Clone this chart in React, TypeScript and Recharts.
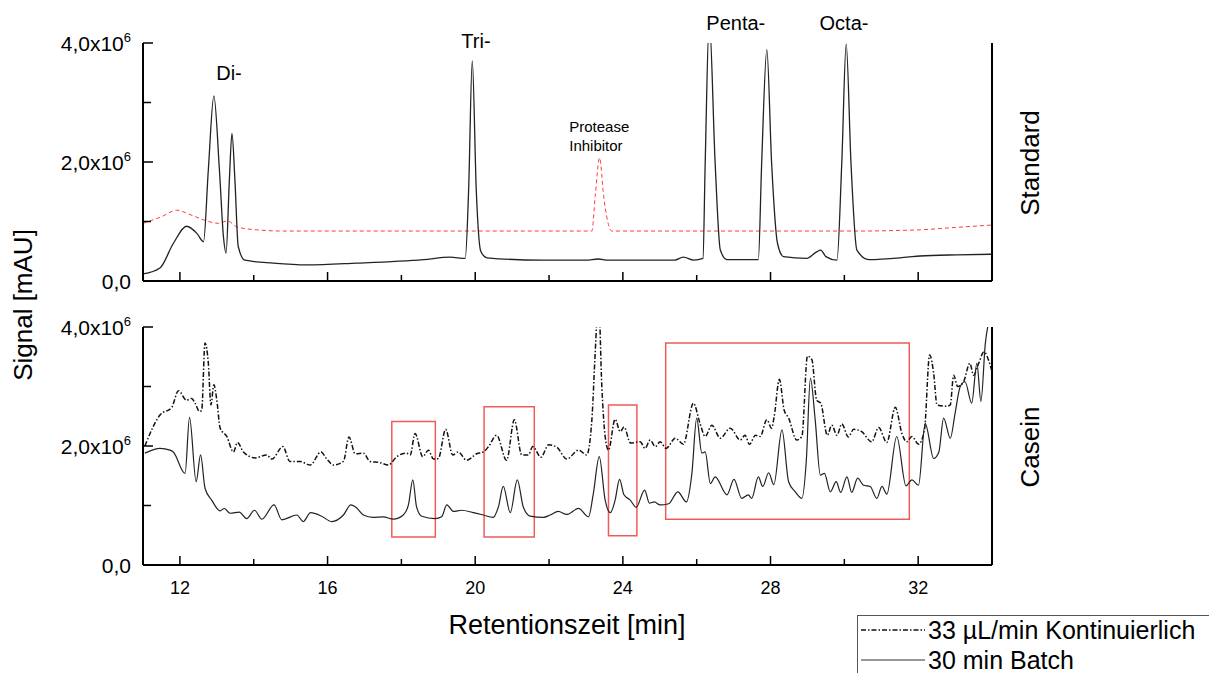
import React from "react";
import {
  LineChart,
  Line,
  XAxis,
  YAxis,
  ReferenceArea,
  ReferenceDot,
} from "recharts";

// values in units of 10^6, time in min
const standardBatch: [number, number][] = [
  [11.0, 0.12], [11.46, 0.22], [11.82, 0.63], [12.18, 0.92], [12.46, 0.8], [12.64, 0.66],
  [12.77, 1.87], [12.92, 3.11], [13.07, 1.87], [13.18, 0.74], [13.25, 0.47], [13.34, 1.7],
  [13.41, 2.48], [13.49, 1.7], [13.58, 0.58], [13.76, 0.35], [14.53, 0.3], [15.44, 0.27],
  [16.79, 0.3], [18.6, 0.36], [19.32, 0.4], [19.73, 0.38], [19.82, 1.5], [19.92, 3.7],
  [20.03, 1.5], [20.15, 0.5], [20.32, 0.39], [21.8, 0.35], [23.0, 0.35], [23.33, 0.37],
  [23.6, 0.35], [25.4, 0.35], [25.64, 0.4], [25.92, 0.35], [26.17, 0.38], [26.23, 1.98],
  [26.34, 4.4], [26.5, 1.98], [26.64, 0.52], [26.82, 0.36], [27.67, 0.36], [27.76, 1.98],
  [27.9, 3.89], [28.03, 1.98], [28.19, 0.63], [28.35, 0.41], [28.98, 0.38], [29.25, 0.49],
  [29.36, 0.52], [29.5, 0.41], [29.8, 0.35], [29.93, 1.98], [30.05, 3.98], [30.18, 1.98],
  [30.34, 0.52], [30.66, 0.36], [31.69, 0.4], [32.05, 0.42], [33.05, 0.44], [34.0, 0.45],
];

const standardInhibitor: [number, number][] = [
  [11.0, 0.97], [11.5, 1.08], [11.91, 1.19], [12.3, 1.11], [12.63, 1.03], [13.04, 0.97],
  [13.29, 1.01], [13.54, 0.91], [14.08, 0.86], [14.8, 0.84], [23.16, 0.84], [23.25, 1.42],
  [23.37, 2.07], [23.48, 1.42], [23.7, 0.84], [30.5, 0.84], [31.5, 0.85], [32.05, 0.86],
  [33.0, 0.9], [34.0, 0.94],
];

const caseinKont: [number, number][] = [
  [11.05, 2.0], [11.46, 2.52], [11.78, 2.65], [11.96, 2.93], [12.18, 2.77], [12.32, 2.8],
  [12.41, 2.72], [12.53, 2.58], [12.59, 2.6], [12.68, 3.73], [12.77, 3.39], [12.84, 2.69],
  [12.92, 3.03], [13.0, 2.77], [13.09, 2.3], [13.27, 2.16], [13.45, 1.9], [13.56, 2.06],
  [13.72, 1.9], [14.04, 1.8], [14.35, 1.85], [14.49, 1.78], [14.79, 1.99], [14.98, 1.74],
  [15.25, 1.74], [15.53, 1.68], [15.82, 1.9], [15.97, 1.79], [16.16, 1.68], [16.43, 1.74],
  [16.58, 2.15], [16.75, 1.87], [16.97, 1.88], [17.15, 1.74], [17.42, 1.72], [17.65, 1.68],
  [17.87, 1.82], [18.14, 1.88], [18.24, 1.85], [18.37, 2.21], [18.58, 1.82], [18.73, 1.93],
  [18.87, 1.78], [19.0, 1.79], [19.2, 2.28], [19.39, 1.85], [19.54, 1.9], [19.77, 1.76],
  [20.04, 1.87], [20.22, 1.9], [20.36, 1.99], [20.58, 2.18], [20.85, 1.76], [21.06, 2.44],
  [21.26, 1.85], [21.44, 1.85], [21.56, 1.99], [21.78, 1.81], [21.99, 2.02], [22.21, 1.98],
  [22.48, 1.78], [22.8, 1.93], [23.02, 1.85], [23.16, 2.44], [23.25, 3.56], [23.34, 4.5],
  [23.43, 3.0], [23.52, 2.16], [23.61, 1.93], [23.79, 2.45], [23.93, 2.24], [24.03, 2.32],
  [24.21, 2.05], [24.47, 2.07], [24.6, 1.96], [24.74, 2.1], [24.88, 1.99], [25.01, 2.07],
  [25.17, 1.96], [25.42, 2.13], [25.64, 2.03], [25.91, 2.72], [26.09, 2.38], [26.23, 2.16],
  [26.41, 2.35], [26.64, 2.13], [26.91, 2.3], [27.18, 2.1], [27.31, 2.18], [27.43, 2.03],
  [27.59, 2.18], [27.72, 2.16], [27.9, 2.44], [28.03, 2.3], [28.1, 2.5], [28.24, 3.12],
  [28.37, 2.6], [28.49, 2.47], [28.71, 2.1], [28.85, 2.16], [29.0, 3.51], [29.12, 3.45],
  [29.25, 2.77], [29.36, 2.72], [29.54, 2.18], [29.66, 2.35], [29.8, 2.18], [29.93, 2.37],
  [30.11, 2.15], [30.25, 2.28], [30.47, 2.24], [30.74, 2.07], [30.93, 2.31], [31.15, 2.06],
  [31.38, 2.65], [31.56, 2.21], [31.69, 2.07], [31.83, 2.16], [32.01, 2.03], [32.17, 2.27],
  [32.31, 3.53], [32.42, 3.22], [32.51, 2.69], [32.78, 2.67], [32.87, 2.69], [32.96, 3.19],
  [33.07, 3.0], [33.23, 3.08], [33.4, 3.39], [33.5, 3.19], [33.64, 3.39], [33.78, 3.58],
  [33.92, 3.42], [34.0, 3.25],
];

const caseinBatch: [number, number][] = [
  [11.05, 1.88], [11.46, 1.96], [11.73, 1.93], [11.82, 1.9], [12.14, 1.54], [12.26, 2.48],
  [12.44, 1.4], [12.56, 1.85], [12.68, 1.29], [12.86, 1.09], [13.09, 0.91], [13.2, 0.95],
  [13.36, 0.87], [13.61, 0.89], [13.81, 0.78], [14.02, 0.92], [14.22, 0.77], [14.55, 1.01],
  [14.76, 0.76], [15.17, 0.84], [15.34, 0.73], [15.54, 0.88], [15.84, 0.82], [16.11, 0.73],
  [16.43, 0.84], [16.63, 1.01], [16.75, 0.98], [16.97, 0.84], [17.24, 0.8], [17.51, 0.81],
  [17.78, 0.77], [18.05, 0.84], [18.19, 1.01], [18.31, 1.43], [18.41, 0.98], [18.55, 0.82],
  [18.91, 0.78], [19.09, 0.81], [19.23, 1.01], [19.41, 0.9], [19.63, 0.92], [19.95, 0.88],
  [20.22, 0.84], [20.48, 0.8], [20.63, 0.98], [20.76, 1.32], [20.95, 0.88], [21.14, 1.43],
  [21.3, 0.98], [21.49, 0.82], [21.85, 0.8], [22.03, 0.84], [22.25, 0.9], [22.48, 0.85],
  [22.8, 0.95], [23.07, 0.81], [23.2, 1.2], [23.36, 1.82], [23.52, 1.09], [23.66, 0.88],
  [23.79, 1.09], [23.91, 1.44], [24.03, 1.18], [24.2, 1.09], [24.36, 0.97], [24.59, 1.26],
  [24.72, 1.04], [24.85, 1.06], [25.01, 1.01], [25.24, 1.03], [25.49, 1.23], [25.72, 1.06],
  [25.87, 1.54], [26.0, 2.47], [26.14, 1.88], [26.23, 1.9], [26.37, 1.37], [26.5, 1.48],
  [26.82, 1.18], [27.01, 1.44], [27.22, 1.12], [27.4, 1.18], [27.49, 1.12], [27.67, 1.48],
  [27.79, 1.32], [27.95, 1.55], [28.09, 1.35], [28.31, 2.27], [28.49, 1.4], [28.67, 1.23],
  [28.85, 1.12], [28.97, 1.76], [29.08, 3.14], [29.21, 2.44], [29.35, 1.51], [29.46, 1.54],
  [29.62, 1.23], [29.78, 1.4], [29.9, 1.22], [30.07, 1.48], [30.2, 1.22], [30.36, 1.46],
  [30.52, 1.34], [30.7, 1.32], [30.88, 1.12], [31.02, 1.32], [31.15, 1.19], [31.42, 2.16],
  [31.67, 1.33], [31.83, 1.43], [32.01, 1.34], [32.19, 2.38], [32.42, 1.79], [32.56, 1.9],
  [32.69, 2.47], [32.87, 2.13], [33.0, 2.55], [33.14, 3.0], [33.27, 3.08], [33.45, 2.72],
  [33.59, 3.39], [33.7, 2.75], [33.82, 3.73], [33.92, 4.1], [34.0, 4.2],
];

// highlighted regions in the casein run: [t1, t2, v1, v2]
const caseinBoxes: [number, number, number, number][] = [
  [17.74, 18.92, 0.47, 2.41],
  [20.24, 21.6, 0.47, 2.66],
  [23.61, 24.38, 0.49, 2.69],
  [25.16, 31.76, 0.77, 3.73],
];

const peakLabels = [
  { text: "Di-", t: 13.33, v: 3.5, size: 20 },
  { text: "Tri-", t: 20.02, v: 4.04, size: 20 },
  { text: "Protease", t: 23.36, v: 2.6, size: 15 },
  { text: "Inhibitor", t: 23.27, v: 2.28, size: 15 },
  { text: "Penta-", t: 27.06, v: 4.34, size: 20 },
  { text: "Octa-", t: 29.99, v: 4.34, size: 20 },
];

const xTicks = [12, 14, 16, 18, 20, 22, 24, 26, 28, 30, 32];
const yTicks = [0, 1, 2, 3, 4];

const toRows = (pairs: [number, number][]) => pairs.map(([t, v]) => ({ t, v }));

const W = 1209;
const H = 673;

const XTick = (props: any) => {
  const { x, y, payload, showLabel } = props;
  const major = payload.value % 4 === 0;
  return (
    <g>
      <line x1={x} x2={x} y1={y} y2={y - (major ? 9 : 6)} stroke="#000" strokeWidth={1.5} />
      {showLabel && major && (
        <text x={x} y={y + 29} textAnchor="middle" fontSize={18} fill="#000">
          {payload.value}
        </text>
      )}
    </g>
  );
};

const YTickLeft = (props: any) => {
  const { x, y, payload } = props;
  const v = payload.value;
  const major = v % 2 === 0;
  return (
    <g>
      <line x1={x} x2={x + (major ? 10 : 8)} y1={y} y2={y} stroke="#000" strokeWidth={1.5} />
      {major && (
        <text x={x - 12} y={y + 8} textAnchor="end" fontSize={21} fill="#000">
          {v === 0 ? (
            "0,0"
          ) : (
            <>
              {`${v},0x10`}
              <tspan dy={-9} fontSize={13}>6</tspan>
            </>
          )}
        </text>
      )}
    </g>
  );
};

const YTickRight = (props: any) => {
  const { x, y } = props;
  return <line x1={x} x2={x - 8} y1={y} y2={y} stroke="#000" strokeWidth={1.5} />;
};

const axisLine = { stroke: "#000", strokeWidth: 2 };

export default function App() {
  return (
    <div
      style={{
        position: "absolute",
        left: 0,
        top: 0,
        width: W,
        height: H,
        background: "#fff",
        overflow: "hidden",
        fontFamily: '"Liberation Sans", Arial, sans-serif',
      }}
    >
      {/* Standard */}
      <div style={{ position: "absolute", left: 0, top: 0 }}>
        <LineChart width={W} height={H} margin={{ top: 43, right: 157, bottom: 362, left: 83 }}>
          <XAxis
            dataKey="t"
            type="number"
            domain={[11, 34]}
            allowDataOverflow
            ticks={xTicks}
            tickSize={0}
            tickMargin={0}
            tickLine={false}
            axisLine={axisLine}
            tick={(p: any) => <XTick {...p} showLabel={false} />}
          />
          <YAxis
            yAxisId="left"
            domain={[0, 4]}
            allowDataOverflow
            ticks={yTicks}
            tickSize={0}
            tickMargin={0}
            tickLine={false}
            axisLine={axisLine}
            tick={<YTickLeft />}
          />
          <YAxis
            yAxisId="right"
            orientation="right"
            domain={[0, 4]}
            ticks={yTicks}
            tickSize={0}
            tickMargin={0}
            tickLine={false}
            axisLine={axisLine}
            tick={<YTickRight />}
          />
          <Line
            yAxisId="left"
            data={toRows(standardInhibitor)}
            dataKey="v"
            type="monotone"
            stroke="#ff3b3b"
            strokeWidth={1}
            strokeDasharray="4 3"
            dot={false}
            isAnimationActive={false}
          />
          <Line
            yAxisId="left"
            data={toRows(standardBatch)}
            dataKey="v"
            type="monotone"
            stroke="#222"
            strokeWidth={1.3}
            dot={false}
            isAnimationActive={false}
          />
          {peakLabels.map((l) => (
            <ReferenceDot
              key={l.text}
              yAxisId="left"
              x={l.t}
              y={l.v}
              r={0}
              ifOverflow="visible"
              shape={(p: any) => (
                <text
                  x={p.cx}
                  y={p.cy}
                  textAnchor="middle"
                  dominantBaseline="central"
                  fontSize={l.size}
                  fill="#000"
                >
                  {l.text}
                </text>
              )}
            />
          ))}
        </LineChart>
      </div>

      {/* Casein */}
      <div style={{ position: "absolute", left: 0, top: 0 }}>
        <LineChart width={W} height={H} margin={{ top: 327, right: 157, bottom: 78, left: 83 }}>
          <XAxis
            dataKey="t"
            type="number"
            domain={[11, 34]}
            allowDataOverflow
            ticks={xTicks}
            tickSize={0}
            tickMargin={0}
            tickLine={false}
            axisLine={axisLine}
            tick={(p: any) => <XTick {...p} showLabel />}
          />
          <YAxis
            yAxisId="left"
            domain={[0, 4]}
            allowDataOverflow
            ticks={yTicks}
            tickSize={0}
            tickMargin={0}
            tickLine={false}
            axisLine={axisLine}
            tick={<YTickLeft />}
          />
          <YAxis
            yAxisId="right"
            orientation="right"
            domain={[0, 4]}
            ticks={yTicks}
            tickSize={0}
            tickMargin={0}
            tickLine={false}
            axisLine={axisLine}
            tick={<YTickRight />}
          />
          {caseinBoxes.map(([t1, t2, v1, v2], i) => (
            <ReferenceArea
              key={i}
              yAxisId="left"
              x1={t1}
              x2={t2}
              y1={v1}
              y2={v2}
              fill="none"
              fillOpacity={0}
              stroke="#f25a5a"
              strokeWidth={1.5}
              strokeOpacity={1}
            />
          ))}
          <Line
            yAxisId="left"
            data={toRows(caseinKont)}
            dataKey="v"
            type="monotone"
            stroke="#111"
            strokeWidth={1.5}
            strokeDasharray="5 2 1.5 2"
            dot={false}
            isAnimationActive={false}
          />
          <Line
            yAxisId="left"
            data={toRows(caseinBatch)}
            dataKey="v"
            type="monotone"
            stroke="#222"
            strokeWidth={1.2}
            dot={false}
            isAnimationActive={false}
          />
        </LineChart>
      </div>

      {/* titles and legend */}
      <svg
        width={W}
        height={H}
        style={{ position: "absolute", left: 0, top: 0, pointerEvents: "none" }}
      >
        <text x={567} y={634} textAnchor="middle" fontSize={27} fill="#000">
          Retentionszeit [min]
        </text>
        <text
          transform="translate(23,305) rotate(-90)"
          textAnchor="middle"
          dominantBaseline="central"
          fontSize={26}
          fill="#000"
        >
          Signal [mAU]
        </text>
        <text
          transform="translate(1030,163) rotate(-90)"
          textAnchor="middle"
          dominantBaseline="central"
          fontSize={26}
          fill="#000"
        >
          Standard
        </text>
        <text
          transform="translate(1030,447) rotate(-90)"
          textAnchor="middle"
          dominantBaseline="central"
          fontSize={26}
          fill="#000"
        >
          Casein
        </text>
        <rect x={857.5} y={615.5} width={400} height={80} fill="#fff" stroke="#555" strokeWidth={1} />
        <line x1={861} x2={925} y1={630} y2={630} stroke="#111" strokeWidth={1.3} strokeDasharray="5 2 1.5 2" />
        <text x={928} y={639} fontSize={25} fill="#000">
          33 µL/min Kontinuierlich
        </text>
        <line x1={861} x2={925} y1={660} y2={660} stroke="#333" strokeWidth={1.2} />
        <text x={928} y={669} fontSize={25} fill="#000">
          30 min Batch
        </text>
      </svg>
    </div>
  );
}
